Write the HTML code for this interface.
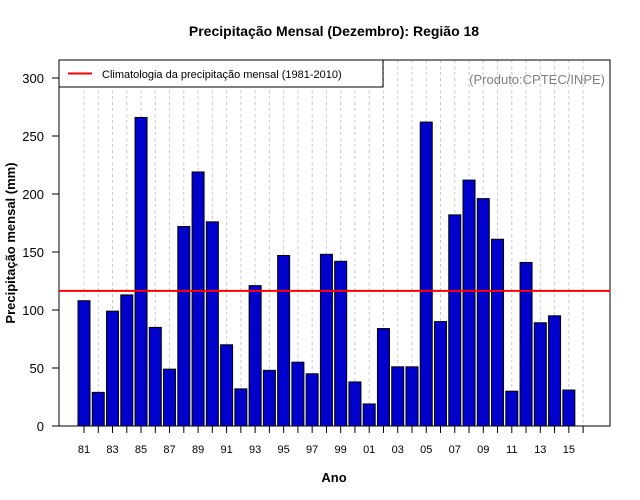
<!DOCTYPE html>
<html><head><meta charset="utf-8"><style>
body{margin:0;background:#fff;}
svg{display:block;font-family:"Liberation Sans",sans-serif;}
</style></head><body>
<svg id="c" width="640" height="500">
<text x="334" y="36" font-size="14" font-weight="bold" text-anchor="middle">Precipitação Mensal (Dezembro): Região 18</text>
<text x="334" y="482" font-size="13" font-weight="bold" text-anchor="middle">Ano</text>
<text transform="translate(15,243) rotate(-90)" font-size="13" font-weight="bold" text-anchor="middle">Precipitação mensal (mm)</text>
<g id="grid"></g><g id="bars"></g><g id="axes"></g>
</svg>
<script>
const years=["81","82","83","84","85","86","87","88","89","90","91","92","93","94","95","96","97","98","99","00","01","02","03","04","05","06","07","08","09","10","11","12","13","14","15"];
const values=[108,29,99,113,266,85,49,172,219,176,70,32,121,48,147,55,45,148,142,38,19,84,51,51,262,90,182,212,196,161,30,141,89,95,31];
const yTicks=[0,50,100,150,200,250,300];
const climatology=116.5;
const NS='http://www.w3.org/2000/svg';
const svg=document.getElementById('c');
const L=59,R=610,T=60,B=426;
const x=i=>84+14.26*i;
const y=v=>426-v*1.16;
function mk(tag,attrs,parent,text){const e=document.createElementNS(NS,tag);for(const k in attrs)e.setAttribute(k,attrs[k]);if(text!==undefined)e.textContent=text;parent.appendChild(e);return e;}
const grid=document.getElementById('grid'),bars=document.getElementById('bars'),axes=document.getElementById('axes');
for(let i=0;i<=years.length;i++){
  const g=mk('line',{x1:x(i),x2:x(i),y1:T,y2:B,stroke:'#c8c8c8','stroke-dasharray':'3,3'},grid);
  
  
}
values.forEach((v,i)=>{
  const b=mk('rect',{x:x(i)-6,y:y(v),width:12,height:B-y(v),fill:'#0000cc',stroke:'#000','stroke-width':1},bars);
  
  
});
mk('rect',{x:L,y:T,width:R-L,height:B-T,fill:'none',stroke:'#000'},axes);
years.concat(['']).forEach((yr,i)=>{
  mk('line',{x1:x(i),x2:x(i),y1:B,y2:B+7,stroke:'#000'},axes);
  if(i%2===0&&yr){const t=mk('text',{x:x(i),y:B+27,'font-size':11,'text-anchor':'middle'},axes,yr);
  
  }
});
yTicks.forEach(v=>{
  mk('line',{x1:L-7,x2:L,y1:y(v),y2:y(v),stroke:'#000'},axes);
  const t=mk('text',{x:L-15,y:y(v)+5,'font-size':13,'text-anchor':'end'},axes,String(v));
  
  
});
const cl=mk('line',{x1:L,x2:R,y1:y(climatology),y2:y(climatology),stroke:'#ff0000','stroke-width':2},axes);


const lg=mk('g',{},axes);


mk('rect',{x:L,y:T,width:324,height:27,fill:'#fff',stroke:'#000'},lg);
mk('line',{x1:68,x2:92,y1:T+13.5,y2:T+13.5,stroke:'#ff0000','stroke-width':2},lg);
mk('text',{x:102,y:T+18,'font-size':11},lg,'Climatologia da precipitação mensal (1981-2010)');
const src=mk('text',{x:605,y:84,'font-size':13,'text-anchor':'end',fill:'#808080'},axes,'(Produto:CPTEC/INPE)');


</script>
</body></html>
